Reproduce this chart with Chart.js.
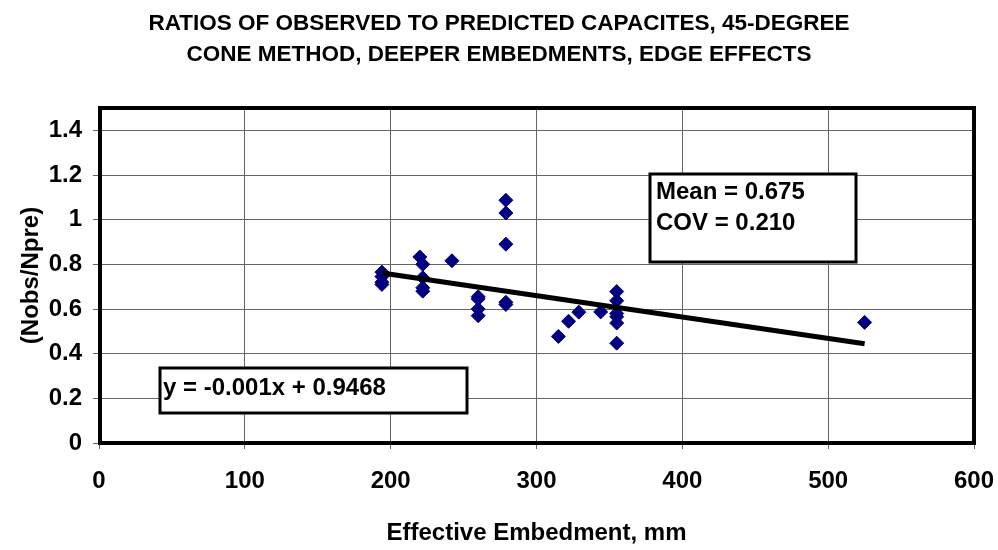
<!DOCTYPE html>
<html>
<head>
<meta charset="utf-8">
<script src="https://cdn.jsdelivr.net/npm/chart.js@4.4.1/dist/chart.umd.min.js"></script>
<style>
  html, body { margin: 0; padding: 0; background: #fff; }
  #wrap { width: 998px; height: 550px; }
</style>
</head>
<body>
<div id="wrap"><canvas id="dataChart" width="998" height="550"></canvas></div>
<script>
// data
let embedment = [194, 194, 194, 194, 220, 222, 222, 222, 222, 242,
                 260, 260, 260, 260, 279, 279, 279, 279, 279,
                 315, 322, 329, 344, 355, 355, 355, 355, 355, 355, 525];
let ratios = [0.765, 0.745, 0.72, 0.71, 0.833, 0.80, 0.74, 0.695, 0.68, 0.816,
              0.655, 0.645, 0.60, 0.57, 1.087, 1.03, 0.89, 0.63, 0.62,
              0.477, 0.545, 0.586, 0.587, 0.678, 0.637, 0.58, 0.565, 0.537, 0.447, 0.54];

// trend line ends
let trendX = [194, 525];
let trendY = [0.761, 0.444];

let xTicks = [0, 100, 200, 300, 400, 500, 600];
let yTicks = [0, 0.2, 0.4, 0.6, 0.8, 1, 1.2, 1.4];

let titleLines = ['RATIOS OF OBSERVED TO PREDICTED CAPACITES, 45-DEGREE',
                  'CONE METHOD, DEEPER EMBEDMENTS, EDGE EFFECTS'];
let statLines = ['Mean = 0.675', 'COV = 0.210'];
let equationText = 'y = -0.001x + 0.9468';

let fontFam = '"Liberation Sans", Arial, sans-serif';

let points = embedment.map((x, i) => ({ x: x, y: ratios[i] }));
let trend = trendX.map((x, i) => ({ x: x, y: trendY[i] }));

// border round the plot area + the two text boxes
let boxPlugin = {
    id: 'boxes',
    afterLayout(chart) {
        // centre the title on the whole canvas, not just the padded part
        chart.titleBlock.left = 0;
        chart.titleBlock.right = chart.width;
    },
    beforeDatasetsDraw(chart) {
        let a = chart.chartArea;
        let c = chart.ctx;
        c.save();
        c.strokeStyle = '#000';
        c.lineWidth = 4;
        c.strokeRect(a.left + 1, a.top, a.right - a.left - 1, a.bottom - a.top);
        c.restore();
    },
    afterDatasetsDraw(chart) {
        let c = chart.ctx;
        c.save();
        c.lineWidth = 3;
        c.strokeStyle = '#000';
        c.fillStyle = '#fff';
        c.fillRect(650, 174, 206, 88);
        c.strokeRect(650, 174, 206, 88);
        c.fillRect(160, 368, 307, 45);
        c.strokeRect(160, 368, 307, 45);

        c.fillStyle = '#000';
        c.font = 'bold 24px ' + fontFam;
        c.textBaseline = 'middle';
        c.textAlign = 'left';
        c.fillText(statLines[0], 656, 192);
        c.fillText(statLines[1], 656, 223);
        c.fillText(equationText, 163, 388);
        c.restore();
    }
};

let ctx = document.getElementById('dataChart').getContext('2d');

let myChart = new Chart(ctx, {
    type: 'scatter',
    data: {
        datasets: [{
            label: 'Ratios',
            data: points,
            pointStyle: 'rectRot',
            pointRadius: 7,
            backgroundColor: '#000080',
            borderColor: '#000080',
            borderWidth: 1,
            order: 2
        }, {
            label: 'Trend',
            type: 'line',
            data: trend,
            borderColor: '#000',
            borderWidth: 5,
            pointRadius: 0,
            fill: false,
            order: 1
        }]
    },
    options: {
        responsive: false,
        animation: false,
        layout: { padding: { left: 0, right: 24, top: 0, bottom: 0 } },
        plugins: {
            legend: { display: false },
            tooltip: { enabled: false },
            title: {
                display: true,
                text: titleLines,
                color: '#000',
                font: { family: fontFam, size: 22.5, weight: 'bold', lineHeight: 1.4 },
                padding: { top: 8, bottom: 37 }
            }
        },
        scales: {
            x: {
                type: 'linear',
                min: 0,
                max: 600,
                afterBuildTicks: function(scale) {
                    scale.ticks = xTicks.map(v => ({ value: v }));
                },
                afterFit: function(scale) {
                    scale.height = 107;
                    scale.paddingLeft = 0;
                    scale.paddingRight = 0;
                },
                ticks: {
                    color: '#000',
                    padding: 18,
                    maxRotation: 0,
                    font: { family: fontFam, size: 24, weight: 'bold' }
                },
                grid: { color: '#666', lineWidth: 1, tickLength: 6 },
                border: { display: false },
                title: {
                    display: true,
                    text: 'Effective Embedment, mm',
                    color: '#000',
                    font: { family: fontFam, size: 24, weight: 'bold' },
                    padding: { top: 0, bottom: 2 }
                }
            },
            y: {
                type: 'linear',
                min: 0,
                max: 1.5,
                afterBuildTicks: function(scale) {
                    scale.ticks = yTicks.map(v => ({ value: v }));
                },
                afterFit: function(scale) { scale.width = 99; },
                ticks: {
                    color: '#000',
                    padding: 11,
                    font: { family: fontFam, size: 24, weight: 'bold' },
                    callback: function(value) { return String(+value.toFixed(1)); }
                },
                grid: { color: '#666', lineWidth: 1, tickLength: 6 },
                border: { display: false },
                title: {
                    display: true,
                    text: '(Nobs/Npre)',
                    color: '#000',
                    font: { family: fontFam, size: 24, weight: 'bold' },
                    padding: { top: 17, bottom: 0 }
                }
            }
        }
    },
    plugins: [boxPlugin]
});
</script>
</body>
</html>
